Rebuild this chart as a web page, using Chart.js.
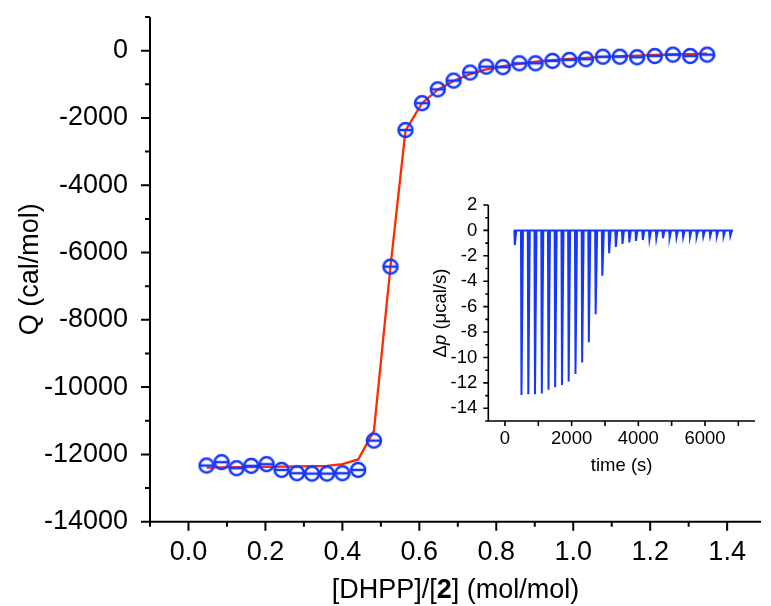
<!DOCTYPE html>
<html>
<head>
<meta charset="utf-8">
<script src="https://cdn.jsdelivr.net/npm/chart.js@4.4.1/dist/chart.umd.min.js"></script>
<style>
  html, body { margin: 0; padding: 0; background: #fff; }
  #wrap { position: relative; width: 771px; height: 606px; overflow: hidden; }
  #main { position: absolute; left: 0; top: 0; }
  #inset { position: absolute; left: 420px; top: 190px; }
</style>
</head>
<body>
<div id="wrap">
  <canvas id="main" width="771" height="606"></canvas>
  <canvas id="inset" width="351" height="290"></canvas>
</div>
<script>
// main plot: molar ratio vs integrated heat
const ratio = [0.047, 0.086, 0.125, 0.163, 0.203, 0.242, 0.282, 0.321, 0.360, 0.400, 0.441,
  0.482, 0.525, 0.564, 0.607, 0.648, 0.689, 0.732, 0.774, 0.817, 0.860, 0.902, 0.946,
  0.990, 1.033, 1.077, 1.121, 1.166, 1.212, 1.259, 1.304, 1.348];
const heat = [-12330, -12230, -12410, -12340, -12290, -12460, -12560, -12570, -12570, -12560, -12460,
  -11590, -6420, -2360, -1560, -1150, -890, -650, -475, -490, -375, -375, -305,
  -275, -255, -180, -180, -195, -160, -120, -160, -120];
const fit = [-12390, -12385, -12380, -12375, -12370, -12365, -12360, -12350, -12340, -12290, -12150,
  -11300, -6420, -2380, -1560, -1160, -900, -700, -560, -460, -390, -330, -285,
  -245, -215, -185, -165, -145, -130, -115, -105, -90];

const xTicks = [0, 0.2, 0.4, 0.6, 0.8, 1.0, 1.2, 1.4];
const xMinor = [-0.1, 0.1, 0.3, 0.5, 0.7, 0.9, 1.1, 1.3];
const yTicks = [-14000, -12000, -10000, -8000, -6000, -4000, -2000, 0];
const yMinor = [-13000, -11000, -9000, -7000, -5000, -3000, -1000, 1000];

// inset: raw thermogram, injection times (s) and peak power (ucal/s)
const injTime = [280, 480, 685, 885, 1090, 1290, 1490, 1695, 1895, 2100, 2300, 2500, 2705,
  2905, 3110, 3310, 3510, 3715, 3915, 4120, 4320, 4525, 4725, 4925, 5130, 5330, 5535,
  5735, 5935, 6140, 6340, 6545, 6745];
const peak = [-1.15, -12.96, -12.9, -12.9, -12.83, -12.55, -12.35, -12.17, -11.9, -11.3, -10.4,
  -8.8, -6.6, -3.57, -1.8, -1.3, -1.07, -0.94, -0.83, -0.76, -0.7, -0.65, -0.61, -0.58,
  -0.55, -0.53, -0.51, -0.5, -0.48, -0.46, -0.45, -0.44, -0.43];
const traceStart = 270, traceEnd = 6840;

const tTicks = [0, 2000, 4000, 6000];
const tMinor = [1000, 3000, 5000, 7000];
const pTicks = [-14, -12, -10, -8, -6, -4, -2, 0, 2];
const pMinor = [-15, -13, -11, -9, -7, -5, -3, -1, 1];

const BLUE = '#1436ff';
const RED = '#ff2a00';
const FONT = "'Liberation Sans', Arial, sans-serif";

// circle with a horizontal bar, like the original marker
function makeMarker() {
  const c = document.createElement('canvas');
  c.width = 20; c.height = 20;
  const g = c.getContext('2d');
  g.strokeStyle = BLUE;
  g.lineWidth = 2.5;
  g.beginPath();
  g.arc(10, 10, 7, 0, Math.PI * 2);
  g.stroke();
  g.beginPath();
  g.moveTo(3, 10); g.lineTo(17, 10);
  g.stroke();
  return c;
}

// axis lines + major/minor ticks drawn with the chart's scales
const axesPlugin = {
  id: 'axes',
  afterDraw(chart, args, o) {
    const { ctx, chartArea: a, scales: { x, y } } = chart;
    ctx.save();
    ctx.strokeStyle = '#000';
    ctx.lineWidth = o.lw;
    ctx.beginPath();
    ctx.moveTo(a.left, a.top);
    ctx.lineTo(a.left, a.bottom);
    ctx.lineTo(a.right, a.bottom);
    o.xMajor.forEach(v => { const p = x.getPixelForValue(v); ctx.moveTo(p, a.bottom); ctx.lineTo(p, a.bottom + o.major); });
    o.xMinor.forEach(v => { const p = x.getPixelForValue(v); ctx.moveTo(p, a.bottom); ctx.lineTo(p, a.bottom + o.minor); });
    o.yMajor.forEach(v => { const p = y.getPixelForValue(v); ctx.moveTo(a.left, p); ctx.lineTo(a.left - o.major, p); });
    o.yMinor.forEach(v => { const p = y.getPixelForValue(v); ctx.moveTo(a.left, p); ctx.lineTo(a.left - o.minor, p); });
    ctx.stroke();

    // axis titles (mixed styles, so drawn piece by piece)
    ctx.fillStyle = '#000';
    ctx.textBaseline = 'alphabetic';
    const drawParts = (parts, cx, cy) => {
      let w = 0;
      parts.forEach(p => { ctx.font = p.f; w += ctx.measureText(p.t).width; });
      let xx = cx - w / 2;
      parts.forEach(p => { ctx.font = p.f; ctx.fillText(p.t, xx, cy); xx += ctx.measureText(p.t).width; });
    };
    drawParts(o.xTitle, (a.left + a.right) / 2, o.xTitleY);
    ctx.translate(o.yTitleX, (a.top + a.bottom) / 2);
    ctx.rotate(-Math.PI / 2);
    drawParts(o.yTitle, 0, 0);
    ctx.restore();
  }
};

const fixBox = (w, h) => s => {
  if (w) s.width = w;
  if (h) s.height = h;
  s.paddingTop = 0; s.paddingBottom = 0; s.paddingLeft = 0; s.paddingRight = 0;
};

// ---- main chart ----
const mainFont = { family: FONT, size: 27 };
new Chart(document.getElementById('main'), {
  type: 'scatter',
  data: {
    datasets: [
      {
        label: 'Q',
        data: ratio.map((r, i) => ({ x: r, y: heat[i] })),
        pointStyle: makeMarker(),
        pointRadius: 9,
        showLine: false,
        order: 0
      },
      {
        label: 'fit',
        data: ratio.map((r, i) => ({ x: r, y: fit[i] })),
        showLine: true,
        borderColor: RED,
        borderWidth: 2.3,
        pointRadius: 0,
        tension: 0,
        order: 1
      }
    ]
  },
  options: {
    responsive: false,
    animation: false,
    layout: { padding: { top: 17, left: 0, right: 0, bottom: 0 } },
    plugins: {
      legend: { display: false },
      tooltip: { enabled: false },
      axes: {
        lw: 2, major: 9, minor: 5,
        xMajor: xTicks, xMinor: xMinor, yMajor: yTicks, yMinor: yMinor,
        xTitle: [
          { t: '[DHPP]/[', f: `27px ${FONT}` },
          { t: '2', f: `bold 27px ${FONT}` },
          { t: '] (mol/mol)', f: `27px ${FONT}` }
        ],
        xTitleY: 598,
        yTitle: [{ t: 'Q (cal/mol)', f: `27px ${FONT}` }],
        yTitleX: 38
      }
    },
    scales: {
      x: {
        type: 'linear', min: -0.1, max: 1.488,
        grid: { display: false, drawTicks: false },
        border: { display: false },
        afterBuildTicks: s => { s.ticks = xTicks.map(v => ({ value: v })); },
        afterFit: fixBox(0, 84.3),
        ticks: { font: mainFont, color: '#000', padding: 15, maxRotation: 0, autoSkip: false,
          callback: v => v.toFixed(1) }
      },
      y: {
        type: 'linear', min: -14000, max: 1000,
        grid: { display: false, drawTicks: false },
        border: { display: false },
        afterBuildTicks: s => { s.ticks = yTicks.map(v => ({ value: v })); },
        afterFit: fixBox(150, 0),
        ticks: { font: mainFont, color: '#000', padding: 22, autoSkip: false,
          callback: v => String(v) }
      }
    }
  },
  plugins: [axesPlugin]
});

// ---- inset thermogram ----
const trace = [{ x: traceStart, y: 0 }];
injTime.forEach((t, i) => {
  trace.push({ x: t, y: 0 }, { x: t + 15, y: peak[i] }, { x: t + 60, y: 0 });
});
trace.push({ x: traceEnd, y: 0 });

const insetFont = { family: FONT, size: 18.5 };
new Chart(document.getElementById('inset'), {
  type: 'scatter',
  data: {
    datasets: [{
      label: 'dp',
      data: trace,
      showLine: true,
      borderColor: BLUE,
      borderWidth: 2,
      pointRadius: 0,
      tension: 0
    }]
  },
  options: {
    responsive: false,
    animation: false,
    layout: { padding: { top: 15, left: 0, right: 16, bottom: 0 } },
    plugins: {
      legend: { display: false },
      tooltip: { enabled: false },
      axes: {
        lw: 1.6, major: 5, minor: 3,
        xMajor: tTicks.concat(tMinor), xMinor: [], yMajor: pTicks, yMinor: pMinor,
        xTitle: [{ t: 'time (s)', f: `18.5px ${FONT}` }],
        xTitleY: 281,
        yTitle: [
          { t: '\u0394', f: `18.5px ${FONT}` },
          { t: 'p', f: `italic 18.5px ${FONT}` },
          { t: ' (\u03bccal/s)', f: `18.5px ${FONT}` }
        ],
        yTitleX: 26
      }
    },
    scales: {
      x: {
        type: 'linear', min: -500, max: 7500,
        grid: { display: false, drawTicks: false },
        border: { display: false },
        afterBuildTicks: s => { s.ticks = tTicks.map(v => ({ value: v })); },
        afterFit: fixBox(0, 59),
        ticks: { font: insetFont, color: '#000', padding: 7, maxRotation: 0, autoSkip: false,
          callback: v => String(v) }
      },
      y: {
        type: 'linear', min: -15, max: 2,
        grid: { display: false, drawTicks: false },
        border: { display: false },
        afterBuildTicks: s => { s.ticks = pTicks.map(v => ({ value: v })); },
        afterFit: fixBox(68.3, 0),
        ticks: { font: insetFont, color: '#000', padding: 11, autoSkip: false,
          callback: v => String(v) }
      }
    }
  },
  plugins: [axesPlugin]
});
</script>
</body>
</html>
